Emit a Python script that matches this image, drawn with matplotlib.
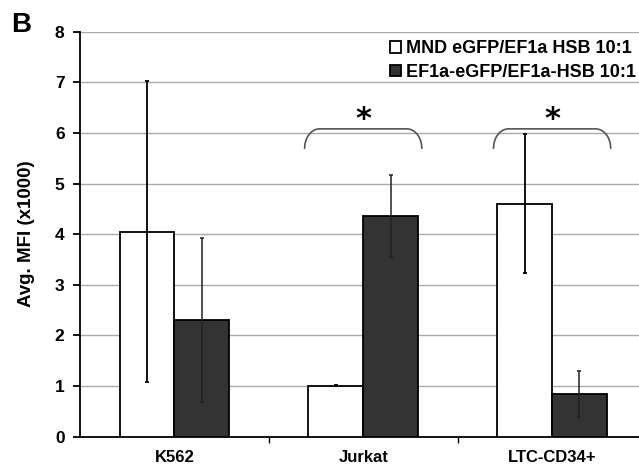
import numpy as np
import matplotlib
matplotlib.use("Agg")
import matplotlib.pyplot as plt

plt.rcParams['font.family'] = ['Liberation Sans', 'DejaVu Sans']
plt.rcParams['font.weight'] = 'bold'

cells = ['K562', 'Jurkat', 'LTC-CD34+']
mnd_mean = [4.05, 1.0, 4.6]
mnd_err = [2.98, 0.01, 1.37]
ef1a_mean = [2.3, 4.35, 0.84]
ef1a_err = [1.62, 0.81, 0.46]
series_names = ['MND eGFP/EF1a HSB 10:1', 'EF1a-eGFP/EF1a-HSB 10:1']

# significance brackets: (category index, bracket top, star)
sig = [(1, 6.08, '*'), (2, 6.08, '*')]

fig = plt.figure(figsize=(6.39, 4.73), dpi=100)
ax = fig.add_axes([0.125, 0.077, 0.875, 0.856])

x = np.arange(len(cells))
w = 0.29
ax.bar(x - w/2, mnd_mean, w, color='white', edgecolor='black', linewidth=1.3,
       label=series_names[0], zorder=3)
ax.bar(x + w/2, ef1a_mean, w, color='#333333', edgecolor='black', linewidth=1.3,
       label=series_names[1], zorder=3)
ax.errorbar(x - w/2, mnd_mean, yerr=mnd_err, fmt='none', ecolor='black',
            elinewidth=1.3, capsize=1.5, capthick=1.3, zorder=4)
ax.errorbar(x + w/2, ef1a_mean, yerr=ef1a_err, fmt='none', ecolor='#222222',
            elinewidth=1.1, capsize=1.5, capthick=1.1, zorder=4)

# brackets
for i, top, s in sig:
    half = 0.31
    r = 0.08
    t = np.linspace(0, np.pi/2, 20)
    lx = x[i] - half + r - r*np.cos(t)
    ly = top - 0.38 + 0.38*np.sin(t)
    rx = x[i] + half - r + r*np.cos(t)
    ax.plot(np.r_[lx, rx[::-1]], np.r_[ly, ly[::-1]], color='#555555', lw=1.2, zorder=5)
    ax.text(x[i], top + 0.02, s, ha='center', va='baseline', fontsize=22, fontweight='bold',
            family='DejaVu Sans')

ax.set_xlim(-0.5, 2.46)
ax.set_ylim(0, 8)
ax.set_yticks(range(0, 9))
ax.set_xticks([0.5, 1.5])
ax.set_xticklabels([])
for xi, c in zip(x, cells):
    ax.text(xi, -0.42, c, ha='center', va='center', fontsize=12, fontweight='bold',
            transform=ax.transData, clip_on=False)
ax.yaxis.grid(True, color='#aaaaaa', lw=1.0, zorder=0)
ax.set_axisbelow(True)
for s in ['top', 'right']:
    ax.spines[s].set_visible(False)
ax.spines['left'].set_linewidth(1.3)
ax.spines['bottom'].set_linewidth(1.3)
ax.tick_params(axis='y', labelsize=12.5, length=5, width=1.3, direction='out', pad=6)
ax.tick_params(axis='x', length=4, width=1.0, direction='out')
for lab in ax.get_yticklabels():
    lab.set_fontweight('bold')
ax.set_ylabel('Avg. MFI (x1000)', fontsize=13.5, fontweight='bold', labelpad=14)

leg = ax.legend(loc='upper right', bbox_to_anchor=(1.0, 0.985), frameon=False,
                fontsize=13, handlelength=0.6, handleheight=0.6, handletextpad=0.3,
                labelspacing=0.35, borderpad=0.15, borderaxespad=0.0)
for t in leg.get_texts():
    t.set_fontweight('bold')

fig.text(0.018, 0.947, 'B', fontsize=20, fontweight='bold', ha='left', va='center')

fig.savefig('out.png', dpi=100)
